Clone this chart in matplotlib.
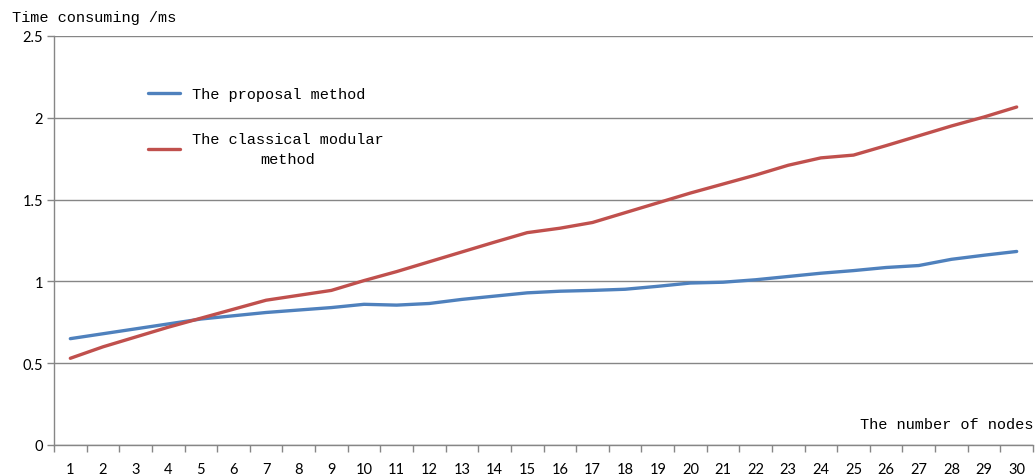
import matplotlib
matplotlib.use("Agg")
import matplotlib.pyplot as plt
from matplotlib.ticker import FixedLocator, NullFormatter

# data
nodes = list(range(1, 31))
proposal = [0.65, 0.68, 0.71, 0.74, 0.77, 0.79, 0.81, 0.825, 0.84, 0.86,
            0.855, 0.865, 0.89, 0.91, 0.93, 0.94, 0.945, 0.952, 0.97, 0.99,
            0.995, 1.01, 1.03, 1.05, 1.066, 1.085, 1.097, 1.135, 1.16, 1.183]
classical = [0.53, 0.60, 0.66, 0.72, 0.775, 0.83, 0.885, 0.915, 0.945, 1.005,
             1.06, 1.12, 1.18, 1.24, 1.298, 1.325, 1.36, 1.42, 1.48, 1.54,
             1.595, 1.65, 1.71, 1.755, 1.772, 1.83, 1.89, 1.95, 2.005, 2.066]
y_ticks = [0, 0.5, 1, 1.5, 2, 2.5]
y_labels = ["0", "0.5", "1", "1.5", "2", "2.5"]

label_font = "Liberation Mono"
tick_font = "Lato"
grey = "#868686"


def draw():
    fig = plt.figure(figsize=(10.35, 4.77), dpi=100)
    ax = fig.add_axes([54 / 1035, 1 - 446 / 477, (1033 - 54) / 1035, (446 - 37) / 477])

    ax.plot(nodes, proposal, color="#4F81BD", lw=2.4, label="The proposal method",
            solid_capstyle="round")
    ax.plot(nodes, classical, color="#C0504D", lw=2.4,
            label="The classical modular\nmethod", solid_capstyle="round")

    ax.set_xlim(0.5, 30.5)
    ax.set_ylim(0, 2.5)
    ax.set_yticks(y_ticks)
    ax.set_yticklabels(y_labels)
    ax.yaxis.grid(True, color=grey, lw=1.0)
    ax.set_axisbelow(True)

    # category axis: labels at centres, tick marks at boundaries
    ax.xaxis.set_major_locator(FixedLocator([n + 0.5 for n in [0] + nodes]))
    ax.xaxis.set_major_formatter(NullFormatter())
    ax.xaxis.set_minor_locator(FixedLocator(nodes))
    ax.set_xticklabels([str(n) for n in nodes], minor=True)
    ax.tick_params(axis="x", which="major", direction="out", length=5, color=grey, width=1)
    ax.tick_params(axis="x", which="minor", length=0, pad=12)
    ax.tick_params(axis="y", direction="out", length=5, color=grey, width=1, pad=3)
    for lab in ax.get_xticklabels(minor=True) + ax.get_yticklabels():
        lab.set_fontfamily(tick_font)
        lab.set_fontsize(10.5)

    for side in ["top", "right"]:
        ax.spines[side].set_visible(False)
    for side in ["left", "bottom"]:
        ax.spines[side].set_color(grey)
        ax.spines[side].set_linewidth(1.0)

    fig.text(12 / 1035, 1 - 18 / 477, "Time consuming /ms", family=label_font,
             fontsize=11, va="center", ha="left")
    ax.text(1.0, 0.0 + 21 / 409, "The number of nodes", family=label_font,
            fontsize=11, va="center", ha="right", transform=ax.transAxes)

    leg = ax.legend(loc="upper left", bbox_to_anchor=(94 / 979, 1 - 51 / 409),
                    frameon=False, prop={"family": label_font, "size": 11},
                    handlelength=2.1, handletextpad=0.8, labelspacing=2.0,
                    borderpad=0, borderaxespad=0)
    for t in leg.get_texts():
        t.set_multialignment("center")
        t.set_linespacing(1.55)

    fig.savefig("out.png", dpi=100)


def main():
    draw()


if __name__ == '__main__':
    main()
